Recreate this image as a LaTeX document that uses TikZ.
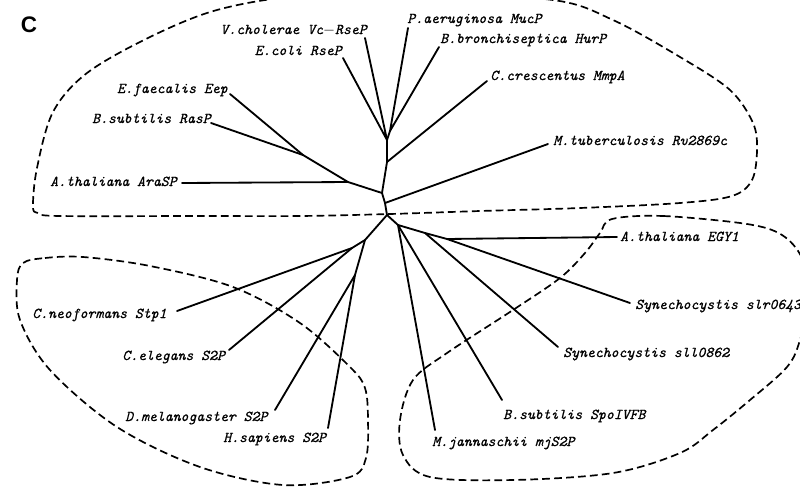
\documentclass[tikz,border=0pt]{standalone}
\usepackage{fontspec}
\newfontfamily\panelfont{Liberation Sans}
\newfontfamily\leaffont{lmmono10-italic.otf}[FakeBold=0.6]
\tikzset{
  leaf/.style={font=\fontsize{10.7}{12}\selectfont\leaffont, inner sep=0pt},
  branch/.style={line width=1.3pt, line cap=round, line join=round},
  clade/.style={line width=1.2pt, dash pattern=on 5.5pt off 3pt},
}
\begin{document}
\begin{tikzpicture}[x=0.025cm,y=-0.025cm]
  \useasboundingbox (0,0) rectangle (800,487);
  % inner nodes of the tree
  \coordinate (r)  at (387,215);
  \coordinate (u1) at (385,203);
  \coordinate (u2) at (382,193);
  \coordinate (u3) at (348,182);
  \coordinate (u4) at (303,155);
  \coordinate (u5) at (387,162);
  \coordinate (u6) at (387,140);
  \coordinate (u7) at (390,131);
  \coordinate (l1) at (365,240);
  \coordinate (l2) at (352,248);
  \coordinate (l3) at (355,275);
  \coordinate (d1) at (398,225);
  \coordinate (d2) at (425,233);
  \coordinate (d3) at (447,239);
  % branch tips
  \coordinate (t-vch) at (365,38);
  \coordinate (t-eco) at (343,58);
  \coordinate (t-pae) at (408,28);
  \coordinate (t-bbr) at (439,47);
  \coordinate (t-ccr) at (487,81);
  \coordinate (t-mtb) at (548,144);
  \coordinate (t-efa) at (230,94);
  \coordinate (t-bsr) at (211,123);
  \coordinate (t-ara) at (182,183);
  \coordinate (t-cne) at (177,311);
  \coordinate (t-cel) at (229,350);
  \coordinate (t-dme) at (275,410);
  \coordinate (t-hsa) at (328,428);
  \coordinate (t-egy) at (617,237);
  \coordinate (t-slr) at (630,303);
  \coordinate (t-sll) at (558,347);
  \coordinate (t-spo) at (502,400);
  \coordinate (t-mja) at (435,430);

  % dashed clades
  \draw[clade] plot[smooth cycle, tension=0.55] coordinates {
    (33,206) (37,168) (53,112) (87,73) (150,37) (217,10) (300,-4) (420,-6)
    (553,0) (613,20) (680,57) (730,90) (753,123) (757,150) (752,180)
    (732,196) (680,203) (580,208) (480,211) (390,214) (300,216) (200,216)
    (60,216) (38,213)};
  \draw[clade] plot[smooth cycle, tension=0.55] coordinates {
    (23,263) (45,258) (83,257) (150,266) (233,287) (300,323) (350,367)
    (365,388) (368,420) (366,458) (350,477) (283,485) (200,467) (117,427)
    (50,370) (20,320) (17,280)};
  \draw[clade] plot[smooth cycle, tension=0.55] coordinates {
    (612,219) (663,216) (747,224) (782,235) (802,258) (810,295) (800,340)
    (787,367) (750,400) (713,430) (680,453) (613,473) (513,480) (430,477)
    (403,455) (400,420) (413,380) (447,353) (513,310) (560,278) (585,253)
    (600,233)};

  % tree
  \draw[branch] (t-vch) -- (u6) -- (t-eco);
  \draw[branch] (t-pae) -- (u7) -- (t-bbr);
  \draw[branch] (u7) -- (u6) -- (u5) -- (u2) -- (u1) -- (r);
  \draw[branch] (u5) -- (t-ccr);
  \draw[branch] (u1) -- (t-mtb);
  \draw[branch] (u2) -- (u3) -- (u4) -- (t-efa);
  \draw[branch] (u4) -- (t-bsr);
  \draw[branch] (u3) -- (t-ara);
  \draw[branch] (r) -- (l1) -- (l2) -- (t-cne);
  \draw[branch] (l2) -- (t-cel);
  \draw[branch] (l1) -- (l3) -- (t-dme);
  \draw[branch] (l3) -- (t-hsa);
  \draw[branch] (r) -- (d1) -- (t-mja);
  \draw[branch] (d1) -- (t-spo);
  \draw[branch] (d1) -- (d2) -- (t-sll);
  \draw[branch] (d2) -- (d3) -- (t-slr);
  \draw[branch] (d3) -- (t-egy);

  % labels
  \node[font=\panelfont\bfseries\fontsize{16}{16}\selectfont] (panel) at (29,25) {C};
  \node[leaf, anchor=base east] (vch) at (367,34) {V.cholerae Vc$-$RseP};
  \node[leaf, anchor=base east] (eco) at (342,55) {E.coli RseP};
  \node[leaf, anchor=base west] (pae) at (407,23) {P.aeruginosa MucP};
  \node[leaf, anchor=base west] (bbr) at (440,43) {B.bronchiseptica HurP};
  \node[leaf, anchor=base west] (ccr) at (490,80) {C.crescentus MmpA};
  \node[leaf, anchor=base west] (mtb) at (553,145) {M.tuberculosis Rv2869c};
  \node[leaf, anchor=base east] (efa) at (228,93) {E.faecalis Eep};
  \node[leaf, anchor=base east] (bsr) at (211,123) {B.subtilis RasP};
  \node[leaf, anchor=base west] (ara) at (50,186) {A.thaliana AraSP};
  \node[leaf, anchor=base west] (cne) at (32,318) {C.neoformans Stp1};
  \node[leaf, anchor=base west] (cel) at (122,360) {C.elegans S2P};
  \node[leaf, anchor=base west] (dme) at (125,421) {D.melanogaster S2P};
  \node[leaf, anchor=base west] (hsa) at (223,442) {H.sapiens S2P};
  \node[leaf, anchor=base west] (egy) at (620,241) {A.thaliana EGY1};
  \node[leaf, anchor=base west] (slr) at (635,309) {Synechocystis slr0643};
  \node[leaf, anchor=base west] (sll) at (563,357) {Synechocystis sll0862};
  \node[leaf, anchor=base west] (spo) at (503,419) {B.subtilis SpoIVFB};
  \node[leaf, anchor=base west] (mja) at (432,446) {M.jannaschii mjS2P};
\end{tikzpicture}
\end{document}
